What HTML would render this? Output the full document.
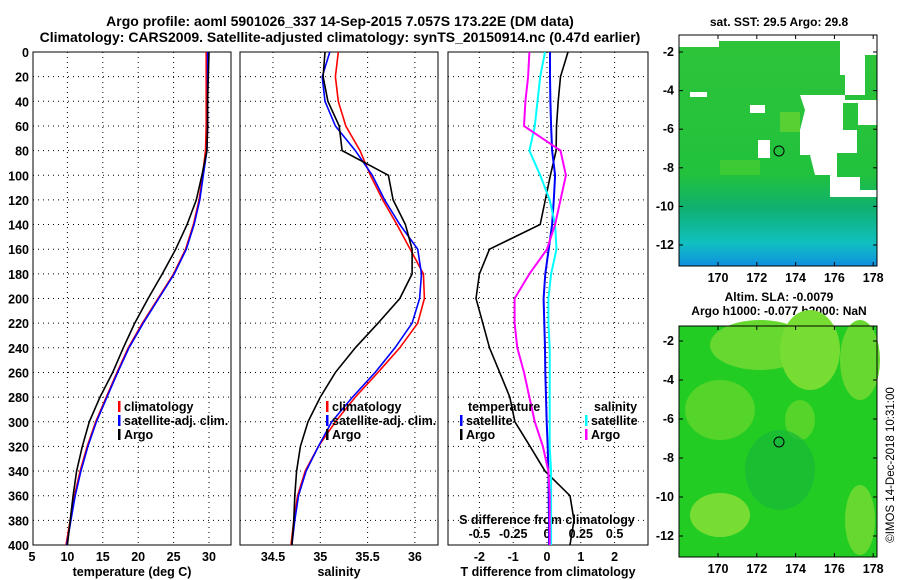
<!DOCTYPE html>
<html><head><meta charset="utf-8"><style>
body{margin:0;background:#fff}
svg{display:block;font-family:"Liberation Sans",sans-serif;font-weight:bold}
</style></head><body>
<svg id="c" width="900" height="580" viewBox="0 0 900 580">
<defs>
<linearGradient id="g1" x1="0" y1="0" x2="0" y2="1">
<stop offset="0" stop-color="#2ec43a"/><stop offset="0.6" stop-color="#22c23c"/><stop offset="0.75" stop-color="#10b070"/><stop offset="0.9" stop-color="#10c0c0"/><stop offset="1" stop-color="#1090e0"/>
</linearGradient>
<clipPath id="cp0"><rect x="33" y="52" width="198" height="493"/></clipPath>
<clipPath id="cp1"><rect x="240" y="52" width="198" height="493"/></clipPath>
<clipPath id="cp2"><rect x="448" y="52" width="200" height="493"/></clipPath>
</defs>
<text x="340" y="26" font-size="14" text-anchor="middle">Argo profile: aoml 5901026_337 14-Sep-2015 7.057S 173.22E (DM data)</text>
<text x="340" y="42" font-size="14" text-anchor="middle">Climatology: CARS2009. Satellite-adjusted climatology: synTS_20150914.nc (0.47d earlier)</text>
<g id="plots"></g>
<g>
<text x="779" y="26" font-size="12" text-anchor="middle">sat. SST: 29.5 Argo: 29.8</text>
<rect x="679" y="35" width="198" height="231" fill="url(#g1)"/>
<rect x="679" y="35" width="198" height="6" fill="#fff"/>
<rect x="679" y="35" width="40" height="12" fill="#fff"/>
<polygon points="840,35 877,35 877,55 865,55 865,95 845,95 845,75 840,75" fill="#fff"/>
<polygon points="800,95 845,95 845,100 877,100 877,125 858,125 858,103 843,103 843,130 857,130 857,153 837,153 837,177 860,177 860,190 877,190 877,197 830,197 830,175 815,175 810,155 800,155 800,130 805,110" fill="#fff"/>
<rect x="690" y="92" width="17" height="5" fill="#fff"/>
<rect x="750" y="105" width="15" height="8" fill="#fff"/>
<rect x="758" y="140" width="12" height="18" fill="#fff"/>
<rect x="720" y="160" width="40" height="15" fill="#4cd030" opacity="0.6"/>
<rect x="780" y="112" width="20" height="20" fill="#7ad830" opacity="0.6"/>
<circle cx="779" cy="151" r="5" fill="none" stroke="#000"/>
<rect x="679" y="35" width="198" height="231" fill="none" stroke="#000"/>
</g>
<g id="map1ax"></g>
<g>
<text x="779" y="301" font-size="12" text-anchor="middle">Altim. SLA: -0.0079</text>
<text x="779" y="315" font-size="12" text-anchor="middle">Argo h1000: -0.077 h2000: NaN</text>
<rect x="679" y="326" width="198" height="231" fill="#22cc22"/>
<ellipse cx="760" cy="345" rx="50" ry="25" fill="#66d830"/>
<ellipse cx="810" cy="350" rx="30" ry="40" fill="#77dd33"/>
<ellipse cx="860" cy="360" rx="20" ry="40" fill="#66d830"/>
<ellipse cx="720" cy="410" rx="35" ry="30" fill="#55d42a"/>
<ellipse cx="800" cy="420" rx="15" ry="20" fill="#55d42a"/>
<ellipse cx="720" cy="515" rx="30" ry="22" fill="#77dd33"/>
<ellipse cx="860" cy="520" rx="15" ry="35" fill="#66d830"/>
<ellipse cx="780" cy="470" rx="35" ry="40" fill="#18b838" opacity="0.7"/>
<circle cx="779" cy="442" r="5" fill="#18b838" stroke="#000"/>
<rect x="679" y="326" width="198" height="231" fill="none" stroke="#000"/>
</g>
<g id="map2ax"></g>
<text transform="translate(894,465) rotate(-90)" font-size="11.5" font-weight="normal" text-anchor="middle">©IMOS 14-Dec-2018 10:31:00</text>
</svg>
<script>
const depths=[0,20,40,60,80,100,120,140,160,180,200,220,240,260,280,300,320,340,360,380,400];
const tempClim=[29.6,29.6,29.6,29.6,29.5,29.1,28.6,27.8,26.7,25.0,22.8,20.6,18.6,17.0,15.5,14.0,12.8,11.8,11.0,10.4,9.8];
const tempSat=[29.8,29.8,29.8,29.8,29.7,29.2,28.7,27.9,26.8,25.1,22.9,20.7,18.7,17.1,15.6,14.1,12.9,11.9,11.1,10.5,9.9];
const tempArgo=[30.0,29.9,29.8,29.8,29.7,29.0,28.2,26.9,25.3,23.4,21.4,19.5,17.9,16.4,14.6,13.1,12.1,11.3,10.8,10.4,10.0];
const salClim=[35.19,35.16,35.19,35.27,35.42,35.53,35.66,35.81,35.95,36.09,36.10,36.03,35.84,35.61,35.37,35.16,34.98,34.84,34.76,34.72,34.69];
const salSat=[35.10,35.02,35.05,35.16,35.37,35.55,35.68,35.84,36.03,36.07,36.05,35.97,35.79,35.58,35.34,35.12,34.98,34.85,34.77,34.73,34.70];
const salArgo=[35.05,35.03,35.08,35.20,35.23,35.72,35.77,35.90,35.97,35.97,35.84,35.61,35.37,35.16,35.00,34.87,34.79,34.75,34.73,34.72,34.70];
const tDiffArgo=[0.62,0.40,0.33,0.28,0.27,0.10,-0.05,-0.20,-1.70,-2.00,-2.10,-1.90,-1.70,-1.40,-1.10,-0.95,-0.50,-0.06,0.68,0.80,0.68];
const tDiffSat=[0.09,0.09,0.10,0.12,0.15,0.24,0.20,0.15,0.05,-0.05,-0.10,-0.08,-0.06,-0.05,-0.03,-0.01,0.02,0.04,0.05,0.06,0.06];
const sDiffSat=[-0.015,-0.05,-0.07,-0.09,-0.13,-0.05,0.02,0.06,0.07,0.03,0.01,0.01,0.02,0.02,0.02,0.02,0.02,0.03,0.03,0.03,0.03];
const sDiffArgo=[-0.13,-0.14,-0.16,-0.17,0.10,0.14,0.10,0.06,0.00,-0.13,-0.24,-0.24,-0.22,-0.17,-0.13,-0.09,-0.03,0.01,0.02,0.02,0.02];
const depthTicks=[0,20,40,60,80,100,120,140,160,180,200,220,240,260,280,300,320,340,360,380,400];
const tTicks=[5,10,15,20,25,30];
const sTicks=[34.5,35,35.5,36];
const dTTicks=[-2,-1,0,1,2];
const dSTicks=[-0.5,-0.25,0,0.25,0.5];
const dSTickLabels=["-0.5","-0.25","0","0.25","0.5"];
const lonTicks=[170,172,174,176,178];
const latTicks=[-2,-4,-6,-8,-10,-12];

const NS='http://www.w3.org/2000/svg';
function mk(tag,attrs,parent,txt){const e=document.createElementNS(NS,tag);for(const k in attrs)e.setAttribute(k,attrs[k]);if(txt!==undefined)e.textContent=txt;parent.appendChild(e);return e;}
const Y0=52,Y1=545;
const yD=d=>Y0+(d-0)/400*(Y1-Y0);
const P=[
 {x0:33,x1:231,f:v=>32+(v-5)*7.08},
 {x0:240,x1:438,f:v=>273+(v-34.5)*94.6},
 {x0:448,x1:648,f:v=>547+v*33.8}
];
const fS=v=>547+v*4*33.8;
const plots=document.getElementById('plots');
P.forEach((p,i)=>{
 const g=mk('g',{},plots);
 
 
 depthTicks.forEach(d=>{
  const l=mk('line',{x1:p.x0,x2:p.x1,y1:yD(d),y2:yD(d),stroke:'#000','stroke-dasharray':'1,4','stroke-width':1},g);
  
  
 });
 const xt=i==0?tTicks:i==1?sTicks:dTTicks;
 xt.forEach(v=>{
  const x=p.f(v);
  if(x>p.x0+2&&x<p.x1-2) mk('line',{x1:x,x2:x,y1:Y0,y2:Y1,stroke:'#000','stroke-dasharray':'1,4'},g);
  const t=mk('text',{x:x,y:561,'font-size':12.5,'text-anchor':'middle'},g,String(v));
  
  
 });
 mk('rect',{x:p.x0,y:Y0,width:p.x1-p.x0,height:Y1-Y0,fill:'none',stroke:'#000'},g);
});
depthTicks.forEach(d=>{
 const t=mk('text',{x:29,y:yD(d)+5,'font-size':12.5,'text-anchor':'end'},plots,String(d));
 
 
});
[['temperature (deg C)',132],['salinity',339],['T difference from climatology',548]].forEach(([s,x])=>{
 const t=mk('text',{x:x,y:576,'font-size':12.5,'text-anchor':'middle'},plots,s);
 
 
});
dSTicks.forEach((v,i)=>{
 const t=mk('text',{x:fS(v),y:538,'font-size':12.5,'text-anchor':'middle'},plots,dSTickLabels[i]);
 
 
});
const st=mk('text',{x:547,y:524,'font-size':12.5,'text-anchor':'middle'},plots,'S difference from climatology');


function line(vals,f,col,name,cp,w){
 const pts=vals.map((v,i)=>f(v).toFixed(1)+','+yD(depths[i]).toFixed(1)).join(' ');
 const l=mk('polyline',{points:pts,fill:'none',stroke:col,'stroke-width':w||1.6,'clip-path':'url(#'+cp+')'},plots);
 
 
}
line(tempClim,P[0].f,'#f00','temp-climatology-line','cp0');
line(tempSat,P[0].f,'#00f','temp-satellite-line','cp0');
line(tempArgo,P[0].f,'#000','temp-argo-line','cp0');
line(salClim,P[1].f,'#f00','sal-climatology-line','cp1');
line(salSat,P[1].f,'#00f','sal-satellite-line','cp1');
line(salArgo,P[1].f,'#000','sal-argo-line','cp1');
line(tDiffArgo,P[2].f,'#000','tdiff-argo-line','cp2');
line(tDiffSat,P[2].f,'#00f','tdiff-satellite-line','cp2',2);
line(sDiffSat,fS,'#0ff','sdiff-satellite-line','cp2',2);
line(sDiffArgo,fS,'#f0f','sdiff-argo-line','cp2',2);
function leg(x,y,col,txt){
 const g=mk('g',{},plots);
 
 
 mk('rect',{x:x,y:y-10,width:2.5,height:11,fill:col},g);
 mk('text',{x:x+6,y:y,'font-size':12.5},g,txt);
}
leg(118,411,'#f00','climatology');leg(118,425,'#00f','satellite-adj. clim.');leg(118,439,'#000','Argo');
leg(326,411,'#f00','climatology');leg(326,425,'#00f','satellite-adj. clim.');leg(326,439,'#000','Argo');
const tt=mk('text',{x:468,y:411,'font-size':12.5},plots,'temperature');

const sl=mk('text',{x:594,y:411,'font-size':12.5},plots,'salinity');

leg(460,425,'#00f','satellite');leg(460,439,'#000','Argo');
leg(585,425,'#0ff','satellite');leg(585,439,'#f0f','Argo');
function mapAxes(id,top,bot,latY){
 const g=document.getElementById(id);
 lonTicks.forEach(v=>{
  const x=718+(v-170)*19.4;
  mk('line',{x1:x,x2:x,y1:bot,y2:bot-4,stroke:'#000'},g);
  mk('line',{x1:x,x2:x,y1:top,y2:top+4,stroke:'#000'},g);
  const t=mk('text',{x:x,y:bot+16,'font-size':12.5,'text-anchor':'middle'},g,String(v));
  
 });
 latTicks.forEach(v=>{
  const y=latY(v);
  mk('line',{x1:679,x2:683,y1:y,y2:y,stroke:'#000'},g);
  mk('line',{x1:873,x2:877,y1:y,y2:y,stroke:'#000'},g);
  const t=mk('text',{x:674,y:y+4,'font-size':12.5,'text-anchor':'end'},g,String(v));
  
 });
}
mapAxes('map1ax',35,266,v=>52+(-2-v)*19.3);
mapAxes('map2ax',326,557,v=>341+(-2-v)*19.5);
</script>
</body></html>
